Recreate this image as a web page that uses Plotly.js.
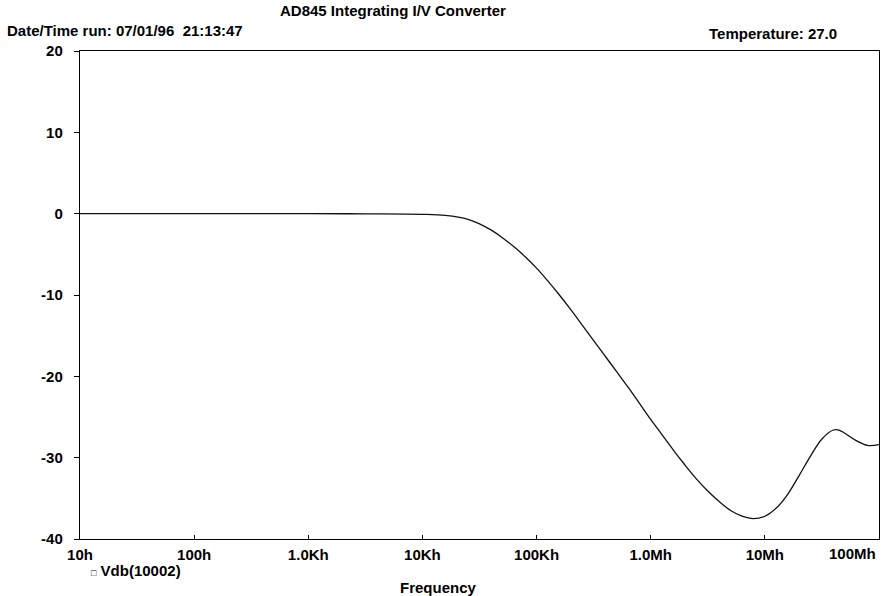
<!DOCTYPE html>
<html>
<head>
<meta charset="utf-8">
<script src="https://cdn.plot.ly/plotly-3.0.1.min.js"></script>
<style>html,body{margin:0;padding:0;background:#fff;}#chart{width:889px;height:596px;}</style>
</head>
<body>
<div id="chart"></div>
<script>
// Frequency (Hz)
const freq = [10, 100, 1000, 3162, 10000, 15849, 25119, 31623, 39811, 50119, 63096, 79433,
  100000, 125893, 158489, 199526, 251189, 316228, 398107, 501187, 630957, 794328,
  1000000, 1258925, 1584893, 1995262, 2511886, 3162278, 3981072, 5011872, 6309573, 7943282,
  10000000, 12589254, 15848932, 19952623, 25118864, 31622777, 39810717, 44668359, 50118723, 63095734, 79432823, 100000000];
// Vdb(10002) (dB)
const vdb = [0, 0, 0, -0.02, -0.08, -0.22, -0.7, -1.25, -2.0, -2.95, -4.05, -5.3,
  -6.7, -8.3, -10.0, -11.8, -13.7, -15.6, -17.5, -19.4, -21.3, -23.3,
  -25.3, -27.2, -29.1, -30.9, -32.6, -34.1, -35.4, -36.5, -37.2, -37.5,
  -37.2, -36.2, -34.5, -32.2, -29.8, -27.7, -26.6, -26.6, -27.0, -27.9, -28.5, -28.4];
const xTickVals = [10, 100, 1000, 10000, 100000, 1000000, 10000000];
const xTickText = ['10h', '100h', '1.0Kh', '10Kh', '100Kh', '1.0Mh', '10Mh'];
const yTickVals = [20, 10, 0, -10, -20, -30, -40];
const yTickText = ['20', '10', '0', '-10', '-20', '-30', '-40'];

const F = 'Liberation Sans, Arial, sans-serif';
const fnt = {family: F, size: 15, color: '#000', weight: 'bold'};

const trace = {
  x: freq, y: vdb, type: 'scatter', mode: 'lines', name: 'Vdb(10002)',
  line: {color: '#111', width: 1.3, shape: 'spline', smoothing: 1},
  hoverinfo: 'skip', showlegend: false
};

const layout = {
  width: 889, height: 596,
  margin: {l: 80, r: 10, t: 51, b: 57},
  paper_bgcolor: '#fff', plot_bgcolor: '#fff',
  font: fnt,
  xaxis: {
    type: 'log', range: [1, 8], tickvals: xTickVals, ticktext: xTickText,
    showgrid: false, zeroline: false, showline: true, linecolor: '#000', linewidth: 1.2,
    mirror: true, ticks: 'inside', ticklen: 4, tickcolor: '#000',
    ticklabelstandoff: 2, tickfont: fnt
  },
  yaxis: {
    range: [-40, 20], tickvals: yTickVals, ticktext: yTickText, showgrid: false, zeroline: false,
    showline: true, linecolor: '#000', linewidth: 1.2, mirror: true,
    ticks: 'outside', ticklen: 5, tickcolor: '#000', ticklabelstandoff: 8, tickfont: fnt
  },
  annotations: [
    {text: 'AD845 Integrating I/V Converter', xref: 'paper', yref: 'paper', x: (393-80)/799, y: 1, yshift: 41,
     xanchor: 'center', yanchor: 'middle', showarrow: false, font: fnt},
    {text: 'Date/Time run: 07/01/96  21:13:47', xref: 'paper', yref: 'paper', x: (5-80)/799, y: 1, yshift: 21,
     xanchor: 'left', yanchor: 'middle', showarrow: false, font: fnt},
    {text: 'Temperature: 27.0', xref: 'paper', yref: 'paper', x: (707-80)/799, y: 1, yshift: 18,
     xanchor: 'left', yanchor: 'middle', showarrow: false, font: fnt},
    {text: '100Mh', xref: 'paper', yref: 'paper', x: (878-80)/799, y: 0, yshift: -14,
     xanchor: 'right', yanchor: 'middle', showarrow: false, font: fnt},
    {text: '<span style="font-size:9px">□</span> Vdb(10002)', xref: 'paper', yref: 'paper', x: (89-80)/799, y: 0, yshift: -31,
     xanchor: 'left', yanchor: 'middle', showarrow: false, font: fnt},
    {text: 'Frequency', xref: 'paper', yref: 'paper', x: (438-80)/799, y: 0, yshift: -48,
     xanchor: 'center', yanchor: 'middle', showarrow: false, font: fnt}
  ]
};

Plotly.newPlot('chart', [trace], layout, {displayModeBar: false, staticPlot: true});
</script>
</body>
</html>
